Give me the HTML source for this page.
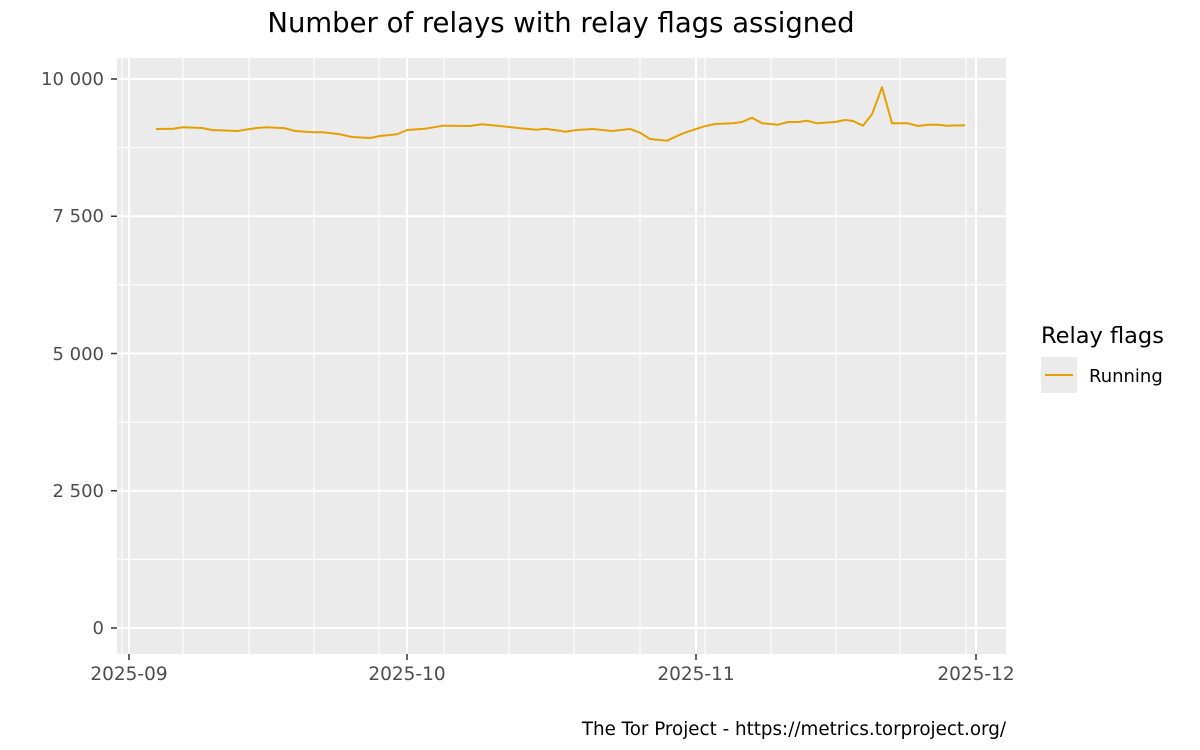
<!DOCTYPE html>
<html><head><meta charset="utf-8"><style>body{margin:0;background:#fff}svg{display:block}text{font-family:"DejaVu Sans","Liberation Sans",sans-serif}</style></head>
<body>
<svg width="1200" height="750" viewBox="0 0 1200 750">
<rect width="1200" height="750" fill="#fff"/>
<text x="561" y="32" font-size="27.5" text-anchor="middle" fill="#000">Number of relays with relay flags assigned</text>
<rect x="117" y="58" width="889" height="596" fill="#ebebeb"/>
<g stroke="#fff" stroke-width="1">
<line x1="117" x2="1006" y1="559.4" y2="559.4"/><line x1="117" x2="1006" y1="422.1" y2="422.1"/><line x1="117" x2="1006" y1="284.9" y2="284.9"/><line x1="117" x2="1006" y1="147.6" y2="147.6"/>
<line x1="122" x2="122" y1="58" y2="654"/><line x1="183" x2="183" y1="58" y2="654"/><line x1="249" x2="249" y1="58" y2="654"/><line x1="314" x2="314" y1="58" y2="654"/><line x1="379" x2="379" y1="58" y2="654"/><line x1="444" x2="444" y1="58" y2="654"/><line x1="509" x2="509" y1="58" y2="654"/><line x1="574" x2="574" y1="58" y2="654"/><line x1="640" x2="640" y1="58" y2="654"/><line x1="705" x2="705" y1="58" y2="654"/><line x1="771" x2="771" y1="58" y2="654"/><line x1="836" x2="836" y1="58" y2="654"/><line x1="900" x2="900" y1="58" y2="654"/><line x1="966" x2="966" y1="58" y2="654"/>
</g>
<g stroke="#fff" stroke-width="2">
<line x1="117" x2="1006" y1="628" y2="628"/><line x1="117" x2="1006" y1="490.75" y2="490.75"/><line x1="117" x2="1006" y1="353.5" y2="353.5"/><line x1="117" x2="1006" y1="216.25" y2="216.25"/><line x1="117" x2="1006" y1="79" y2="79"/>
<line x1="129" x2="129" y1="58" y2="654"/><line x1="407" x2="407" y1="58" y2="654"/><line x1="696" x2="696" y1="58" y2="654"/><line x1="976" x2="976" y1="58" y2="654"/>
</g>
<polyline fill="none" stroke="#e69f00" stroke-width="2" stroke-linejoin="round" points="156,129 173,128.7 183,127.3 202,128 212,130 237,131 257,128 267,127.3 285,128.3 295,131 313,132.3 323,132.3 340,134.3 352,137 370,138 380,136 397,134.3 407,130 425,128.7 443,125.7 470,126 482,124.3 507,126.7 520,128.3 537,129.7 545,128.7 560,130.7 565,131.7 577,130 593,129 612,131 630,129 640,132.7 650,139 667,140.7 683,133.3 703,126.7 715,124 733,123.3 742,122 752,117.7 762,123.3 778,124.7 788,122 798,122 807,120.7 817,123.3 835,122 845,120 853,121 863,125.7 872,114.3 882,87.3 892,123.3 908,123.3 918,126 928,124.7 938,124.7 947,125.7 965,125.3"/>
<g stroke="#333" stroke-width="1.5">
<line x1="111" x2="117" y1="628" y2="628"/><line x1="111" x2="117" y1="490.75" y2="490.75"/><line x1="111" x2="117" y1="353.5" y2="353.5"/><line x1="111" x2="117" y1="216.25" y2="216.25"/><line x1="111" x2="117" y1="79" y2="79"/>
<line x1="129" x2="129" y1="654" y2="660"/><line x1="407" x2="407" y1="654" y2="660"/><line x1="696" x2="696" y1="654" y2="660"/><line x1="976" x2="976" y1="654" y2="660"/>
</g>
<g font-size="18" fill="#4d4d4d" text-anchor="end">
<text x="104" y="634">0</text><text x="104" y="497">2 500</text><text x="104" y="360">5 000</text><text x="104" y="222">7 500</text><text x="104" y="85">10 000</text>
</g>
<g font-size="18.5" fill="#4d4d4d" text-anchor="middle">
<text x="129" y="680">2025-09</text><text x="407" y="680">2025-10</text><text x="696" y="680">2025-11</text><text x="976" y="680">2025-12</text>
</g>
<text x="1041" y="343" font-size="22.5" fill="#000">Relay flags</text>
<rect x="1041" y="357" width="36" height="36" fill="#ebebeb"/>
<line x1="1045" x2="1073" y1="375" y2="375" stroke="#e69f00" stroke-width="2"/>
<text x="1089" y="382" font-size="18" fill="#000">Running</text>
<text x="1006" y="735" font-size="18.3" text-anchor="end" fill="#000">The Tor Project - https://metrics.torproject.org/</text>
</svg>
</body></html>
